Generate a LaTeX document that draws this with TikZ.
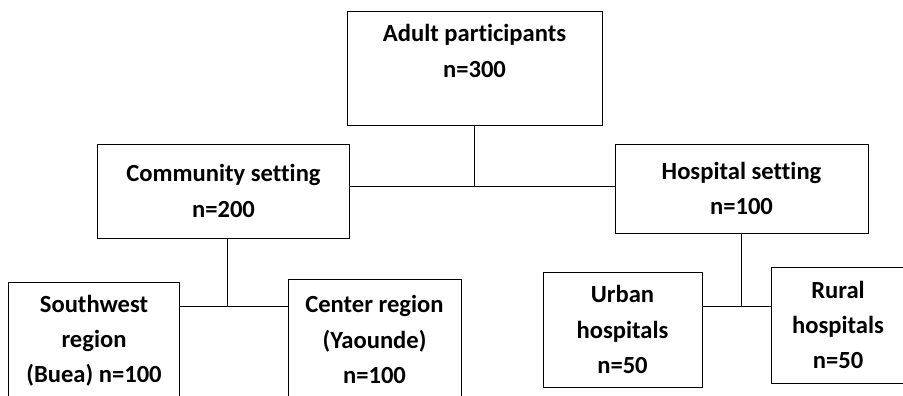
\documentclass[tikz,border=0pt]{standalone}
\usepackage{fontspec}
\setmainfont[Ligatures=NoCommon]{Carlito}
\usetikzlibrary{calc}
\tikzset{link/.style={line width=0.85pt},
 every node/.style={font=\bfseries\fontsize{21}{30}\selectfont}}

\begin{document}
\begin{tikzpicture}[x=0.03cm,y=-0.03cm,box/.style={draw,line width=0.85pt,align=center,inner sep=0pt}]
\useasboundingbox (0,0) rectangle (903,396);
\node[box,minimum width=7.65cm,minimum height=3.39cm] (top) at (474.5,68.5) {Adult participants\\n=300\\ };
\node[box,minimum width=7.53cm,minimum height=2.82cm] (comm) at (223.5,191) {Community setting\\n=200};
\node[box,minimum width=7.59cm,minimum height=2.67cm] (hosp) at (741.5,188.5) {Hospital setting\\n=100};
\node[box,minimum width=5.1cm,minimum height=3.54cm] (sw) at (94,341) {Southwest\\region\\(Buea) n=100};
\node[box,minimum width=5.19cm,minimum height=3.63cm] (ctr) at (374.5,339.5) {Center region\\(Yaounde)\\n=100};
\node[box,minimum width=4.77cm,minimum height=3.45cm] (urb) at (622.5,329.5) {Urban\\hospitals\\n=50};
\node[box,minimum width=4.02cm,minimum height=3.48cm] (rur) at (838,325) {Rural\\hospitals\\n=50};
\coordinate (j1) at (474.5,186.5);
\coordinate (j2) at (227,306);
\coordinate (j3) at (741.5,306);
\draw[link] (top.south) -- (j1);
\draw[link] (comm.east |- j1) -- (hosp.west |- j1);
\draw[link] (comm.south -| j2) -- (j2);
\draw[link] (sw.east |- j2) -- (ctr.west |- j2);
\draw[link] (hosp.south) -- (j3);
\draw[link] (urb.east |- j3) -- (rur.west |- j3);
\end{tikzpicture}
\end{document}
